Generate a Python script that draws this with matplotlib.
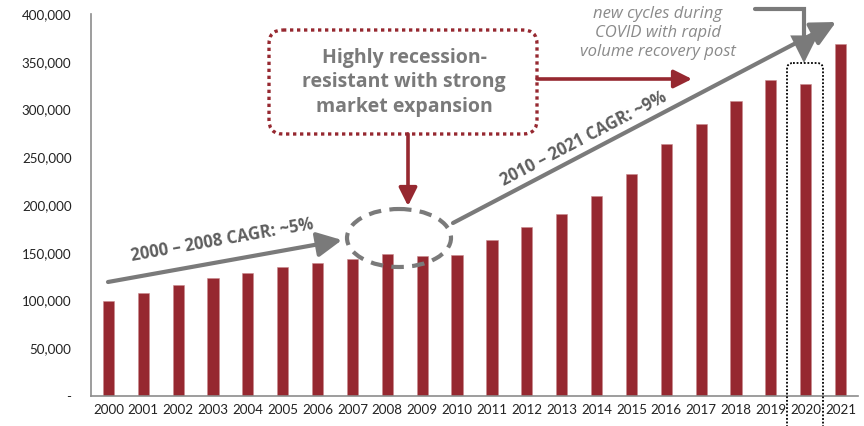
import matplotlib
matplotlib.use("Agg")
import matplotlib.pyplot as plt
from matplotlib.patches import FancyArrowPatch, FancyBboxPatch, Ellipse, ArrowStyle
from matplotlib.path import Path
from matplotlib.transforms import Affine2D
from matplotlib.ticker import FuncFormatter

# ---- data ----
years = [str(y) for y in range(2000, 2022)]
values = [100000, 108000, 116000, 123500, 129000, 135000, 139000, 143000,
          149000, 146500, 147500, 163500, 177000, 191000, 209000, 232500,
          264000, 285000, 308500, 331000, 326500, 368500]
y_ticks = [0, 50000, 100000, 150000, 200000, 250000, 300000, 350000, 400000]

label_cagr1 = "2000 \u2013 2008 CAGR: ~5%"
label_cagr2 = "2010 \u2013 2021 CAGR: ~9%"
box_lines = ["Highly recession-", "resistant with strong", "market expansion"]
note_lines = ["new cycles during", "COVID with rapid", "volume recovery post"]

# ---- style ----
W, H, DPI = 864, 426, 100
BAR = "#962830"
GRAY = "#7a7a7a"
DGRAY = "#5e5e5e"
TICK_FONT = "Lato"

fig = plt.figure(figsize=(W / DPI, H / DPI), dpi=DPI)
ax = fig.add_axes([91 / W, 1 - 396 / H, (858 - 91) / W, (396 - 14) / H])

x = list(range(len(years)))
ax.bar(x, values, width=0.32, color=BAR, edgecolor="#c98a8e", linewidth=0.4, zorder=2)
ax.set_xlim(-0.5, len(years) - 0.5)
ax.set_ylim(0, 400000)
ax.set_yticks(y_ticks)
ax.yaxis.set_major_formatter(FuncFormatter(lambda v, p: "-" if v == 0 else f"{int(v):,}"))
ax.set_xticks(x)
ax.set_xticklabels(years)
for s in ["top", "right"]:
    ax.spines[s].set_visible(False)
for s in ["left", "bottom"]:
    ax.spines[s].set_color("#8c8c8c")
    ax.spines[s].set_linewidth(1.2)
ax.tick_params(axis="both", length=0, labelsize=9.6, colors="#222222")
ax.tick_params(axis="y", pad=14)
ax.tick_params(axis="x", pad=6)
for lab in ax.get_xticklabels() + ax.get_yticklabels():
    lab.set_family(TICK_FONT)

# pixel transform (top-left origin)
P = Affine2D().scale(1 / DPI, -1 / DPI).translate(0, H / DPI) + fig.dpi_scale_trans

gray_head = ArrowStyle("-|>", head_length=15, head_width=7.5)
red_head = ArrowStyle("-|>", head_length=11, head_width=5.5)

# 2000-2008 arrow
fig.patches.append(FancyArrowPatch((108, 282), (342, 240), transform=P,
                                   arrowstyle=gray_head, mutation_scale=1,
                                   color=GRAY, lw=3, shrinkA=0, shrinkB=0, zorder=5))
fig.text(222 / W, 1 - 240 / H, label_cagr1, rotation=10, rotation_mode="anchor",
         ha="center", va="center", fontsize=12, fontweight="bold",
         family="Open Sans", color=DGRAY)

# 2010-2021 arrow
fig.patches.append(FancyArrowPatch((453, 223), (836, 22), transform=P,
                                   arrowstyle=gray_head, mutation_scale=1,
                                   color=GRAY, lw=3, shrinkA=0, shrinkB=0, zorder=5))
fig.text(584 / W, 1 - 139 / H, label_cagr2, rotation=27.6, rotation_mode="anchor",
         ha="center", va="center", fontsize=12, fontweight="bold",
         family="Open Sans", color=DGRAY)

# dashed ellipse
fig.patches.append(Ellipse((399, 238), 104, 58, transform=P, fill=False,
                           edgecolor=GRAY, lw=3, linestyle=(0, (3, 2)), zorder=6))

# dotted red box
fig.patches.append(FancyBboxPatch((269, 30), 268, 104, transform=P,
                                  boxstyle="round,pad=0,rounding_size=14",
                                  fill=False, edgecolor=BAR, lw=2.4,
                                  linestyle=(0, (1, 1.1)), zorder=5))
for i, t in enumerate(box_lines):
    fig.text(404 / W, 1 - (58 + 24.5 * i) / H, t, ha="center", va="center",
             fontsize=14, fontweight="bold", family="Open Sans", color=GRAY)

# red arrows
fig.patches.append(FancyArrowPatch((408, 134), (408, 206), transform=P,
                                   arrowstyle=red_head, mutation_scale=1,
                                   color=BAR, lw=2.6, shrinkA=0, shrinkB=0, zorder=5))
fig.patches.append(FancyArrowPatch((537, 79), (692, 79), transform=P,
                                   arrowstyle=red_head, mutation_scale=1,
                                   color=BAR, lw=2.6, shrinkA=0, shrinkB=0, zorder=5))

# dotted black box around 2020
fig.patches.append(FancyBboxPatch((787, 63), 36, 400, transform=P,
                                  boxstyle="round,pad=0,rounding_size=6",
                                  fill=False, edgecolor="black", lw=1.3,
                                  linestyle=(0, (1, 1)), zorder=6))

# bent gray arrow
bent = Path([(755, 9), (804, 9), (804, 63)], [Path.MOVETO, Path.LINETO, Path.LINETO])
fig.patches.append(FancyArrowPatch(path=bent, transform=P, arrowstyle=gray_head,
                                   mutation_scale=1, color=GRAY, lw=3,
                                   joinstyle="miter", zorder=5))

# italic note
for i, t in enumerate(note_lines):
    fig.text(658 / W, 1 - (14 + 19 * i) / H, t, ha="center", va="center",
             fontsize=12, style="italic", family="Open Sans", color="#8a8a8a")

fig.savefig("out.png", dpi=DPI)
